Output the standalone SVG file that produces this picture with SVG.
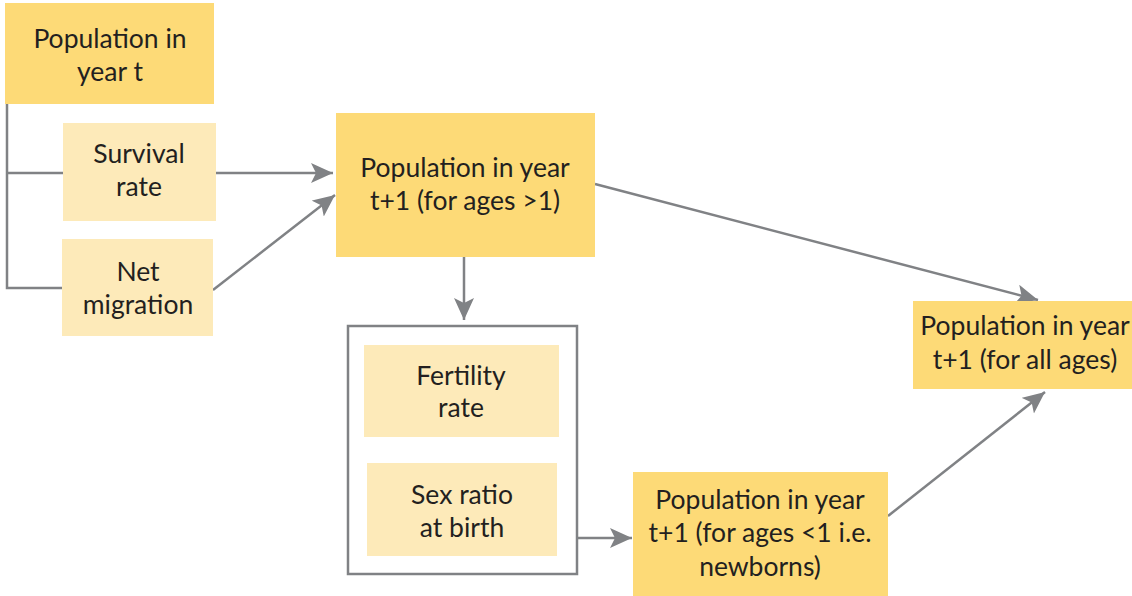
<svg xmlns="http://www.w3.org/2000/svg" width="1132" height="596" viewBox="0 0 1132 596">
<defs>
<style>
.dark{fill:#FDDA77;}
.light{fill:#FDEAB9;}
.t{font-family:Lato,"Open Sans",sans-serif;font-size:26.5px;fill:#231F20;text-anchor:middle;}
.c{stroke:#808285;stroke-width:2.5;fill:none;}
</style>
<marker id="ah" markerUnits="userSpaceOnUse" markerWidth="26" markerHeight="22" refX="22" refY="10" orient="auto">
<path d="M0,0 L22,10 L0,20 L5,10 Z" fill="#808285"/>
</marker>
</defs>
<rect width="1132" height="596" fill="#fff"/>
<g id="connectors">
<polyline class="c" points="7,104 7,288 62,288"/>
<line class="c" x1="7" y1="173" x2="63" y2="173"/>
<line class="c" x1="216" y1="173" x2="333" y2="173" marker-end="url(#ah)"/>
<line class="c" x1="213" y1="290" x2="335" y2="195" marker-end="url(#ah)"/>
<line class="c" x1="464" y1="257" x2="464" y2="320" marker-end="url(#ah)"/>
<line class="c" x1="577" y1="538" x2="632" y2="538" marker-end="url(#ah)"/>
<line class="c" x1="595" y1="184" x2="1038" y2="300" marker-end="url(#ah)"/>
<line class="c" x1="888" y1="516" x2="1045" y2="392" marker-end="url(#ah)"/>
</g>
<g id="pop-t"><rect class="dark" x="5" y="3" width="209" height="101"/><text class="t" x="110" y="48">Population in</text><text class="t" x="110" y="81">year t</text></g>
<g id="survival"><rect class="light" x="63" y="123" width="153" height="98"/><text class="t" x="139" y="163">Survival</text><text class="t" x="139" y="196">rate</text></g>
<g id="migration"><rect class="light" x="62" y="239" width="151" height="97"/><text class="t" x="138" y="281">Net</text><text class="t" x="138" y="314">migration</text></g>
<g id="pop-gt1"><rect class="dark" x="336" y="113" width="259" height="144"/><text class="t" x="465" y="177">Population in year</text><text class="t" x="465" y="210">t+1 (for ages &gt;1)</text></g>
<g id="group-box"><rect x="348" y="326" width="229" height="248" fill="none" stroke="#808285" stroke-width="2.5"/></g>
<g id="fertility"><rect class="light" x="364" y="345" width="195" height="92"/><text class="t" x="461" y="385">Fertility</text><text class="t" x="461" y="417">rate</text></g>
<g id="sexratio"><rect class="light" x="367" y="463" width="190" height="93"/><text class="t" x="462" y="504">Sex ratio</text><text class="t" x="462" y="537">at birth</text></g>
<g id="pop-newborn"><rect class="dark" x="633" y="472" width="255" height="124"/><text class="t" x="760" y="509">Population in year</text><text class="t" x="760" y="542">t+1 (for ages &lt;1 i.e.</text><text class="t" x="760" y="576">newborns)</text></g>
<g id="pop-all"><rect class="dark" x="913" y="301" width="219" height="88"/><text class="t" x="1025" y="335">Population in year</text><text class="t" x="1025" y="369">t+1 (for all ages)</text></g>
</svg>
